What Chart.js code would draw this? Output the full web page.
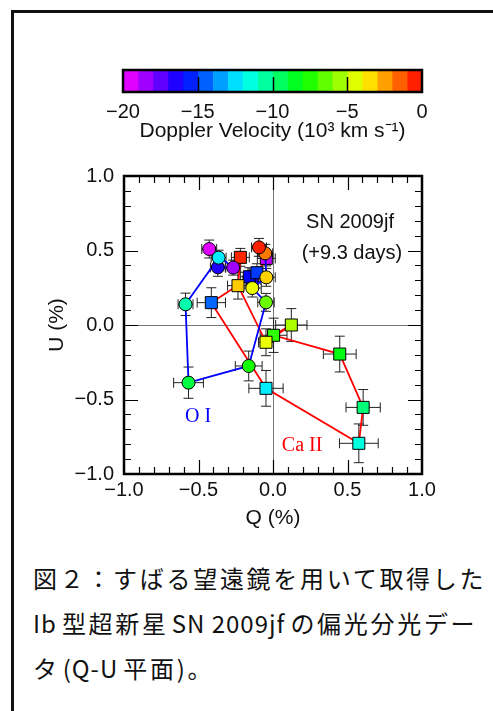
<!DOCTYPE html>
<html>
<head>
<meta charset="utf-8">
<script src="https://cdn.jsdelivr.net/npm/chart.js@4.4.0/dist/chart.umd.min.js"></script>
<style>
  html, body { margin: 0; padding: 0; background: #fff; width: 493px; height: 711px; overflow: hidden; }
  #frame { position: absolute; left: 11px; top: 10px; width: 520px; height: 720px; border-left: 3px solid #111; border-top: 3px solid #111; }
  #barWrap { position: absolute; left: 0; top: 40px; width: 470px; height: 104px; }
  #plotWrap { position: absolute; left: 0; top: 150px; width: 470px; height: 381px; }
  #caption { position: absolute; left: 33px; top: 555px; font-family: "Noto Sans CJK JP"; font-size: 24px; line-height: 45px; letter-spacing: 2.7px; color: #111; white-space: nowrap; }
  #caption .la { letter-spacing: 1px; margin: 0 5px 0 3px; }
</style>
</head>
<body>
<div id="frame"></div>
<div id="barWrap"><canvas id="cbar"></canvas></div>
<div id="plotWrap"><canvas id="plot"></canvas></div>
<div id="caption">図２：すばる望遠鏡を用いて取得した<br><span class="la" style="margin-left:0">Ib</span>型超新星<span class="la">SN 2009jf</span>の偏光分光デー<br>タ<span class="la">(Q-U</span>平面)。</div>
<script>
// colour bar: lower edge of each 1000 km/s bin
const cbarLo = [-20, -19, -18, -17, -16, -15, -14, -13, -12, -11, -10, -9, -8, -7, -6, -5, -4, -3, -2, -1];
const cbarTicks = [-15, -10, -5];

// O I (circles), in velocity order
const oiQ = [-0.428, -0.267, -0.370, -0.365, -0.587, -0.567, -0.163, -0.047, -0.139, -0.045, -0.052, -0.094];
const oiU = [0.510, 0.385, 0.387, 0.452, 0.139, -0.387, -0.275, 0.152, 0.248, 0.320, 0.481, 0.521];
const oiVel = [-19.5, -18.5, -16.5, -12.3, -10.7, -9.0, -7.7, -6.3, -4.3, -3.3, -1.9, -0.5];
const oiQerr = [0.05, 0.05, 0.05, 0.05, 0.05, 0.10, 0.09, 0.055, 0.06, 0.06, 0.05, 0.05];
const oiUerr = [0.06, 0.05, 0.06, 0.05, 0.075, 0.105, 0.10, 0.06, 0.06, 0.06, 0.06, 0.06];

// Ca II (squares), in velocity order
const caQ = [-0.045, -0.141, -0.159, -0.108, -0.414, -0.047, 0.576, 0.605, 0.448, 0.004, 0.123, -0.047, -0.235, -0.219];
const caU = [0.447, 0.302, 0.324, 0.351, 0.150, -0.425, -0.794, -0.553, -0.195, -0.069, 0.000, -0.116, 0.264, 0.454];
const caVel = [-19.0, -16.5, -16.0, -15.1, -14.4, -12.3, -11.5, -9.9, -8.3, -7.3, -5.3, -4.3, -3.2, -0.6];
const caQerr = [0.06, 0.06, 0.06, 0.06, 0.095, 0.115, 0.13, 0.115, 0.11, 0.09, 0.105, 0.05, 0.07, 0.06];
const caUerr = [0.05, 0.06, 0.06, 0.06, 0.10, 0.12, 0.13, 0.12, 0.12, 0.115, 0.11, 0.09, 0.09, 0.06];

const fmt = v => (v < 0 ? '\u2212' : '') + Math.abs(v);
const fmt1 = v => (v < -1e-9 ? '\u2212' : '') + Math.abs(v).toFixed(1);
const velColor = v => `hsl(${-15 * v}, 100%, 50%)`;

Chart.defaults.font.family = "'Liberation Sans', Arial, sans-serif";
Chart.defaults.color = '#111';

// frame + inner ticks of the colour bar
const cbarFrame = {
  id: 'cbarFrame',
  afterDraw(chart) {
    const { ctx, chartArea: a, scales: { x } } = chart;
    ctx.save();
    ctx.strokeStyle = '#000';
    ctx.lineWidth = 1.5;
    cbarTicks.forEach(t => {
      const px = Math.round(x.getPixelForValue(t)) + 0.5;
      ctx.beginPath();
      ctx.moveTo(px, a.bottom);
      ctx.lineTo(px, a.bottom - 15);
      ctx.stroke();
    });
    ctx.lineWidth = 2.5;
    ctx.strokeRect(a.left, a.top, a.right - a.left, a.bottom - a.top);
    ctx.restore();
  }
};

new Chart(document.getElementById('cbar'), {
  type: 'bar',
  data: {
    labels: ['v'],
    datasets: cbarLo.map(lo => ({
      data: [[lo, lo + 1]],
      backgroundColor: velColor(lo + 0.5),
      borderWidth: 0,
      grouped: false,
      barPercentage: 1,
      categoryPercentage: 1
    }))
  },
  options: {
    indexAxis: 'y',
    responsive: true,
    maintainAspectRatio: false,
    animation: false,
    layout: { padding: { top: 30, left: 123, right: 48, bottom: 0 } },
    plugins: { legend: { display: false }, tooltip: { enabled: false } },
    scales: {
      y: { display: false },
      x: {
        min: -20, max: 0,
        grid: { display: false },
        border: { display: false },
        ticks: { stepSize: 5, callback: v => fmt(v), font: { size: 20 }, color: '#111', padding: 0, maxRotation: 0 },
        title: { display: true, text: 'Doppler Velocity (10³ km s⁻¹)', font: { size: 21 }, color: '#111', padding: 0 },
        afterFit: s => { s.height = 52; }
      }
    }
  },
  plugins: [cbarFrame]
});

// error bars under the markers
const errorBars = {
  id: 'errorBars',
  beforeDatasetsDraw(chart) {
    const { ctx, scales: { x, y } } = chart;
    ctx.save();
    ctx.strokeStyle = '#222';
    ctx.lineWidth = 1;
    chart.data.datasets.forEach(ds => {
      ds.data.forEach((p, i) => {
        const px = x.getPixelForValue(p.x), py = y.getPixelForValue(p.y);
        const x0 = x.getPixelForValue(p.x - ds.qErr[i]), x1 = x.getPixelForValue(p.x + ds.qErr[i]);
        const y0 = y.getPixelForValue(p.y - ds.uErr[i]), y1 = y.getPixelForValue(p.y + ds.uErr[i]);
        ctx.beginPath();
        ctx.moveTo(x0, py); ctx.lineTo(x1, py);
        ctx.moveTo(x0, py - 5); ctx.lineTo(x0, py + 5);
        ctx.moveTo(x1, py - 5); ctx.lineTo(x1, py + 5);
        ctx.moveTo(px, y0); ctx.lineTo(px, y1);
        ctx.moveTo(px - 5, y0); ctx.lineTo(px + 5, y0);
        ctx.moveTo(px - 5, y1); ctx.lineTo(px + 5, y1);
        ctx.stroke();
      });
    });
    ctx.restore();
  }
};

// box, inward ticks on all four sides, labels
const plotFrame = {
  id: 'plotFrame',
  afterDraw(chart) {
    const { ctx, chartArea: a, scales: { x, y } } = chart;
    ctx.save();
    ctx.strokeStyle = '#000';
    ctx.lineWidth = 1.2;
    for (let k = -9; k <= 9; k++) {
      const v = k / 10;
      const len = (k % 5 === 0) ? 14 : 7;
      const px = Math.round(x.getPixelForValue(v)) + 0.5;
      const py = Math.round(y.getPixelForValue(v)) + 0.5;
      ctx.beginPath();
      ctx.moveTo(px, a.bottom); ctx.lineTo(px, a.bottom - len);
      ctx.moveTo(px, a.top); ctx.lineTo(px, a.top + len);
      ctx.moveTo(a.left, py); ctx.lineTo(a.left + len, py);
      ctx.moveTo(a.right, py); ctx.lineTo(a.right - len, py);
      ctx.stroke();
    }
    ctx.lineWidth = 2.5;
    ctx.strokeRect(a.left, a.top, a.right - a.left, a.bottom - a.top);

    ctx.textAlign = 'center';
    ctx.textBaseline = 'middle';
    ctx.fillStyle = '#111';
    ctx.font = "20px 'Liberation Sans', Arial, sans-serif";
    ctx.fillText('SN 2009jf', x.getPixelForValue(0.517), y.getPixelForValue(0.685));
    ctx.fillText('(+9.3 days)', x.getPixelForValue(0.53), y.getPixelForValue(0.483));
    ctx.font = "20px 'Liberation Serif', 'Times New Roman', serif";
    ctx.fillStyle = '#0000ff';
    ctx.fillText('O I', x.getPixelForValue(-0.503), y.getPixelForValue(-0.617));
    ctx.fillStyle = '#ff0000';
    ctx.fillText('Ca II', x.getPixelForValue(0.195), y.getPixelForValue(-0.812));
    ctx.restore();
  }
};

new Chart(document.getElementById('plot'), {
  type: 'scatter',
  data: {
    datasets: [
      {
        label: 'O I',
        data: oiQ.map((q, i) => ({ x: q, y: oiU[i] })),
        qErr: oiQerr, uErr: oiUerr,
        showLine: true,
        borderColor: '#0000ff',
        borderWidth: 1.8,
        pointStyle: 'circle',
        pointRadius: 6.5,
        pointBackgroundColor: oiVel.map(velColor),
        pointBorderColor: '#000',
        pointBorderWidth: 1
      },
      {
        label: 'Ca II',
        data: caQ.map((q, i) => ({ x: q, y: caU[i] })),
        qErr: caQerr, uErr: caUerr,
        showLine: true,
        borderColor: '#ff0000',
        borderWidth: 1.8,
        pointStyle: 'rect',
        pointRadius: 8.5,
        pointBackgroundColor: caVel.map(velColor),
        pointBorderColor: '#000',
        pointBorderWidth: 1
      }
    ]
  },
  options: {
    responsive: true,
    maintainAspectRatio: false,
    animation: false,
    layout: { padding: { top: 26, left: 45, right: 48, bottom: 0 } },
    plugins: { legend: { display: false }, tooltip: { enabled: false } },
    scales: {
      x: {
        min: -1, max: 1,
        ticks: { stepSize: 0.5, callback: v => fmt1(v), font: { size: 20 }, color: '#111', padding: 4, maxRotation: 0 },
        grid: { color: c => (c.tick && Math.abs(c.tick.value) < 1e-9) ? '#777' : 'transparent', drawTicks: false },
        border: { display: false },
        title: { display: true, text: 'Q (%)', font: { size: 21 }, color: '#111', padding: 0 },
        afterFit: s => { s.height = 57; }
      },
      y: {
        min: -1, max: 1,
        ticks: { stepSize: 0.5, callback: v => fmt1(v), font: { size: 20 }, color: '#111', padding: 10 },
        grid: { color: c => (c.tick && Math.abs(c.tick.value) < 1e-9) ? '#777' : 'transparent', drawTicks: false },
        border: { display: false },
        title: { display: true, text: 'U (%)', font: { size: 21 }, color: '#111', padding: 0 },
        afterFit: s => { s.width = 79; }
      }
    }
  },
  plugins: [errorBars, plotFrame]
});
</script>
</body>
</html>
